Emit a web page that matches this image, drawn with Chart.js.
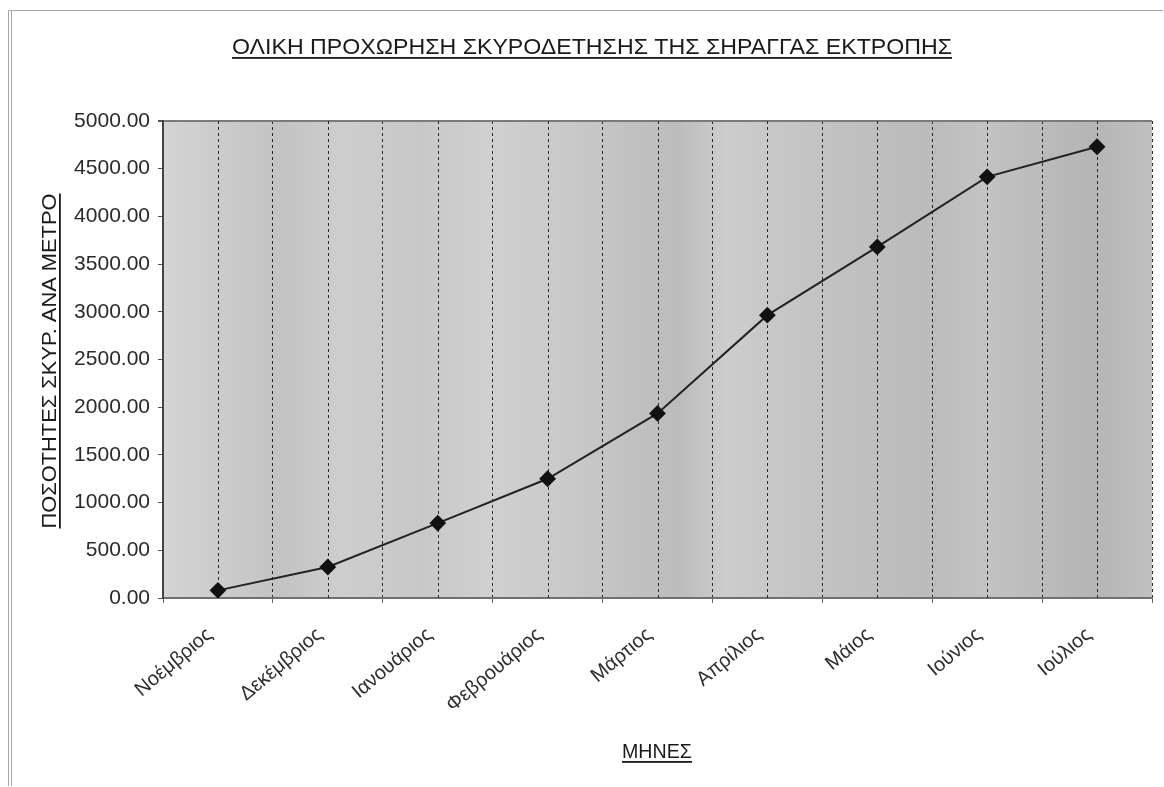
<!DOCTYPE html>
<html>
<head>
<meta charset="utf-8">
<script src="https://cdn.jsdelivr.net/npm/chart.js@4.4.1/dist/chart.umd.min.js"></script>
<style>
  html, body { margin: 0; padding: 0; background: #fff; }
  #wrap { width: 1164px; height: 787px; }
</style>
</head>
<body>
<div id="wrap"><canvas id="progressChart" width="1164" height="787"></canvas></div>
<script>
// Months and cumulative concreting progress
const months = ['Νοέμβριος', 'Δεκέμβριος', 'Ιανουάριος', 'Φεβρουάριος', 'Μάρτιος', 'Απρίλιος', 'Μάιος', 'Ιούνιος', 'Ιούλιος'];
const quantities = [80, 325, 785, 1250, 1935, 2965, 3680, 4415, 4730];
const yTicks = [0, 500, 1000, 1500, 2000, 2500, 3000, 3500, 4000, 4500, 5000];

const chartTitle = 'ΟΛΙΚΗ ΠΡΟΧΩΡΗΣΗ ΣΚΥΡΟΔΕΤΗΣΗΣ ΤΗΣ ΣΗΡΑΓΓΑΣ ΕΚΤΡΟΠΗΣ';
const yTitle = 'ΠΟΣΟΤΗΤΕΣ ΣΚΥΡ. ΑΝΑ ΜΕΤΡΟ';
const xTitle = 'ΜΗΝΕΣ';

const FONT = '"Liberation Sans", Arial, sans-serif';

// Draws a text line, stretched sideways to the given width, with an underline
function underlined(ctx, text, x, y, font, width) {
    ctx.save();
    ctx.font = font;
    ctx.textAlign = 'center';
    ctx.textBaseline = 'alphabetic';
    const w = ctx.measureText(text).width;
    ctx.translate(x, y);
    ctx.scale(width / w, 1);
    ctx.fillText(text, 0, 0);
    ctx.fillRect(-w / 2, 3, w, 1.8);
    ctx.restore();
}

// Grey striped backdrop of the plot area
const plotBackground = {
    id: 'plotBackground',
    beforeDraw(chart) {
        const { ctx, chartArea: a } = chart;
        const g = ctx.createLinearGradient(a.left, 0, a.right, 0);
        const stops = [
            [0.00, '#d4d4d4'], [0.06, '#cbcbcb'], [0.12, '#c3c3c3'], [0.18, '#cecece'],
            [0.26, '#c8c8c8'], [0.33, '#d0d0d0'], [0.40, '#cacaca'], [0.46, '#c3c3c3'],
            [0.52, '#bcbcbc'], [0.57, '#cdcdcd'], [0.63, '#c6c6c6'], [0.70, '#c0c0c0'],
            [0.77, '#bbbbbb'], [0.83, '#c3c3c3'], [0.88, '#bcbcbc'], [0.94, '#b5b5b5'],
            [1.00, '#c0c0c0']
        ];
        stops.forEach(([p, c]) => g.addColorStop(p, c));
        ctx.save();
        ctx.fillStyle = g;
        ctx.fillRect(a.left, a.top, a.right - a.left, a.bottom - a.top);
        ctx.restore();
    }
};

// Dotted lines through each month, on top of the boundary grid
const centerLines = {
    id: 'centerLines',
    beforeDatasetsDraw(chart) {
        const { ctx, chartArea: a, scales: { x } } = chart;
        ctx.save();
        ctx.strokeStyle = '#2a2a2a';
        ctx.lineWidth = 1;
        ctx.setLineDash([3, 3]);
        months.forEach((m, i) => {
            const px = Math.round(x.getPixelForValue(i)) + 0.5;
            ctx.beginPath();
            ctx.moveTo(px, a.top);
            ctx.lineTo(px, a.bottom);
            ctx.stroke();
        });
        ctx.restore();
    }
};

// Titles and outer frame
const labels = {
    id: 'labels',
    afterDraw(chart) {
        const { ctx } = chart;
        ctx.save();
        ctx.strokeStyle = '#a5a5a5';
        ctx.lineWidth = 1;
        ctx.beginPath();
        ctx.moveTo(8.5, 786);
        ctx.lineTo(8.5, 10.5);
        ctx.lineTo(1163, 10.5);
        ctx.moveTo(11.5, 10.5);
        ctx.lineTo(11.5, 786);
        ctx.stroke();

        ctx.fillStyle = '#1a1a1a';
        underlined(ctx, chartTitle, 592, 54, '22px ' + FONT, 720);
        underlined(ctx, xTitle, 657, 758, '20px ' + FONT, 70);

        ctx.translate(56, 361);
        ctx.rotate(-Math.PI / 2);
        underlined(ctx, yTitle, 0, 0, '21px ' + FONT, 335);
        ctx.restore();
    }
};

new Chart(document.getElementById('progressChart'), {
    type: 'line',
    data: {
        labels: months,
        datasets: [{
            data: quantities,
            borderColor: '#222',
            borderWidth: 2,
            backgroundColor: '#111',
            pointStyle: 'rectRot',
            pointRadius: 7,
            pointHoverRadius: 7,
            pointBackgroundColor: '#111',
            pointBorderColor: '#111',
            tension: 0,
            fill: false
        }]
    },
    options: {
        responsive: false,
        animation: false,
        layout: { padding: { top: 121, right: 12, left: 0, bottom: 0 } },
        plugins: { legend: { display: false }, tooltip: { enabled: false }, title: { display: false } },
        scales: {
            x: {
                offset: true,
                afterFit: s => { s.height = 787 - 598; },
                grid: {
                    offset: true,
                    drawOnChartArea: true,
                    color: c => (c.index === months.length ? 'transparent' : '#2a2a2a'),
                    tickColor: '#666',
                    tickLength: 5,
                    lineWidth: 1
                },
                border: { display: true, color: '#707070', width: 2, dash: [3, 3] },
                ticks: {
                    color: '#2e2e2e',
                    font: { family: FONT, size: 20 },
                    minRotation: 40,
                    maxRotation: 40,
                    padding: 20,
                    labelOffset: -8,
                    autoSkip: false
                }
            },
            y: {
                min: 0,
                max: 5000,
                afterFit: s => { s.width = 163; },
                afterBuildTicks: s => { s.ticks = yTicks.map(v => ({ value: v })); },
                grid: {
                    color: c => (c.tick && c.tick.value === 5000 ? '#7a7a7a' : 'transparent'),
                    lineWidth: c => (c.tick && c.tick.value === 5000 ? 2 : 1),
                    tickColor: '#555',
                    tickLength: 5
                },
                border: { display: true, color: '#444', width: 2 },
                ticks: {
                    color: '#2a2a2a',
                    font: { family: FONT, size: 21 },
                    padding: 8,
                    callback: v => Number(v).toFixed(2)
                }
            }
        }
    },
    plugins: [plotBackground, centerLines, labels]
});
</script>
</body>
</html>
